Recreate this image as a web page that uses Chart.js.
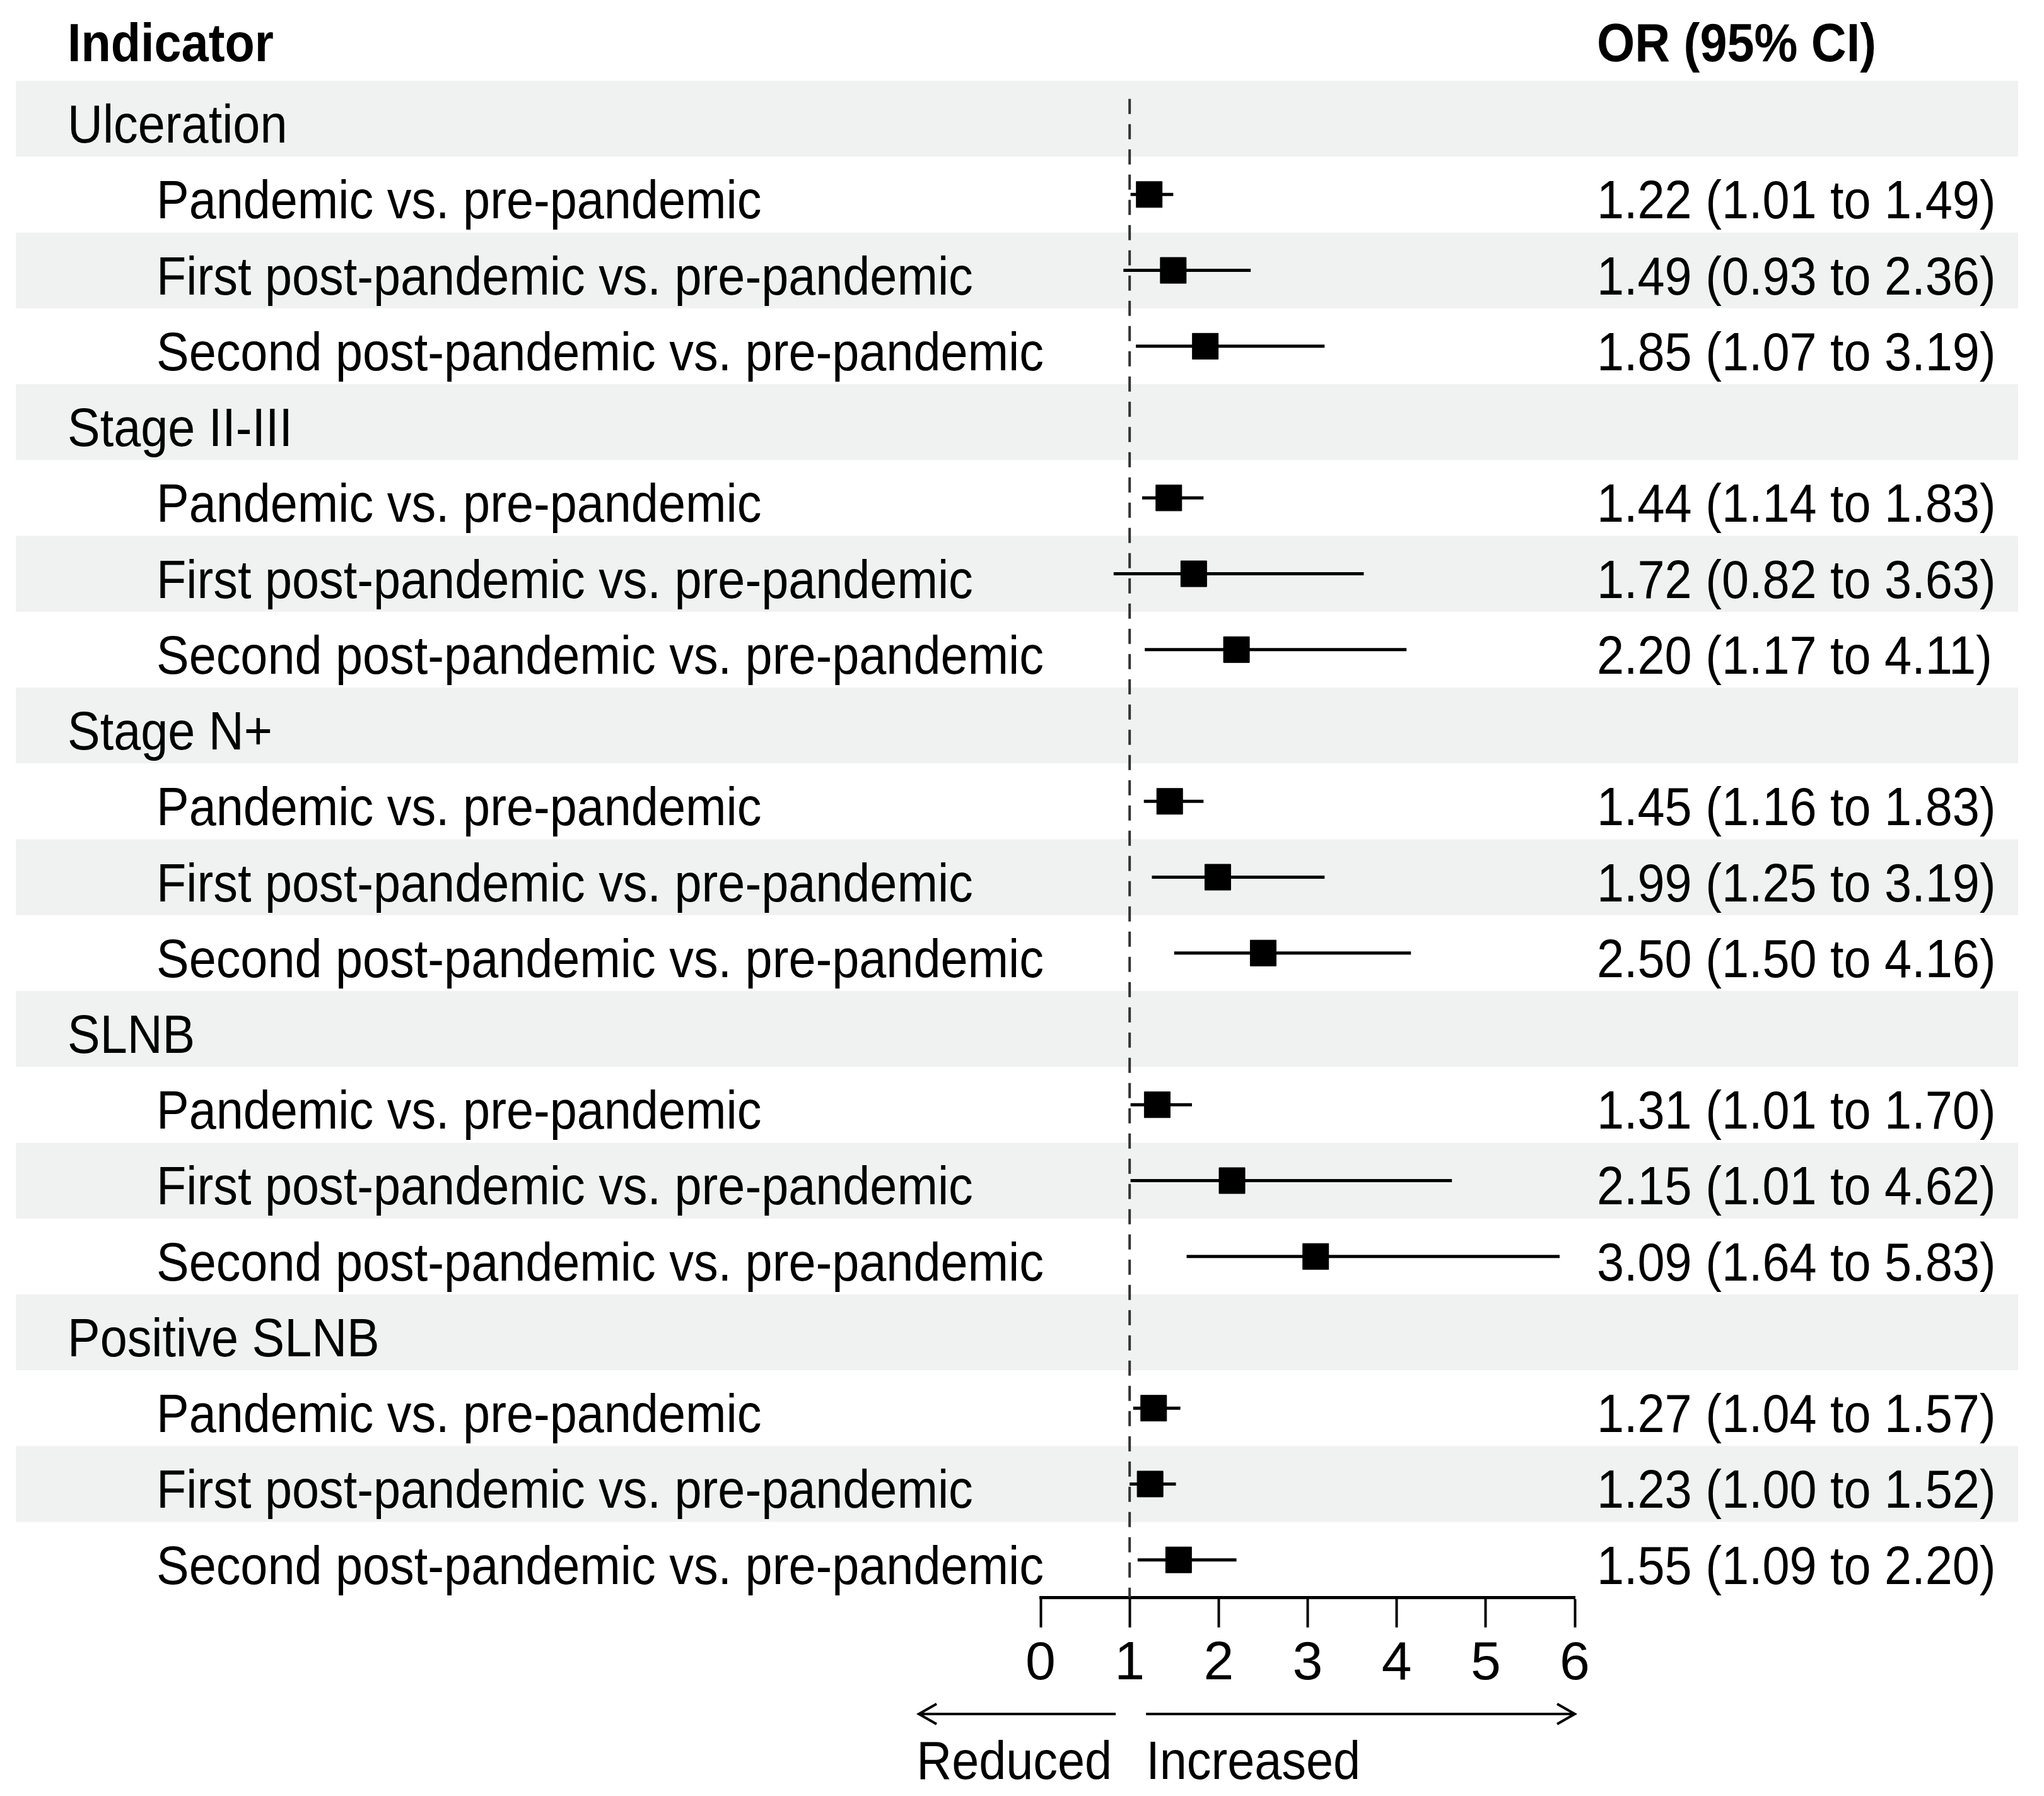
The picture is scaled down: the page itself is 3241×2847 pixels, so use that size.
<!DOCTYPE html>
<html>
<head>
<meta charset="utf-8">
<script src="https://cdn.jsdelivr.net/npm/chart.js@4.4.1/dist/chart.umd.min.js"></script>
<style>
  html, body { margin: 0; padding: 0; background: #ffffff; }
  #wrap { width: 3241px; height: 2847px; }
</style>
</head>
<body>
<div id="wrap"><canvas id="forest" width="3241" height="2847"></canvas></div>
<script>
// groups and the three comparisons inside each group
const groups = ['Ulceration', 'Stage II-III', 'Stage N+', 'SLNB', 'Positive SLNB'];
const comparisons = [
  'Pandemic vs. pre-pandemic',
  'First post-pandemic vs. pre-pandemic',
  'Second post-pandemic vs. pre-pandemic'
];
// odds ratios and 95% CI, in row order
const orValues = [1.22, 1.49, 1.85, 1.44, 1.72, 2.20, 1.45, 1.99, 2.50, 1.31, 2.15, 3.09, 1.27, 1.23, 1.55];
const ciLow    = [1.01, 0.93, 1.07, 1.14, 0.82, 1.17, 1.16, 1.25, 1.50, 1.01, 1.01, 1.64, 1.04, 1.00, 1.09];
const ciHigh   = [1.49, 2.36, 3.19, 1.83, 3.63, 4.11, 1.83, 3.19, 4.16, 1.70, 4.62, 5.83, 1.57, 1.52, 2.20];
const xTicks = [0, 1, 2, 3, 4, 5, 6];

const FONT = "'Liberation Sans', Arial, sans-serif";
const FSIZE = 86;
const SQUEEZE = 0.9;   // narrow look of the original lettering
const BAND = '#eff2f1';

// build the table rows: group header then its comparisons
const rows = [];
let k = 0;
groups.forEach(g => {
  rows.push({ label: g, header: true });
  comparisons.forEach(c => {
    rows.push({ label: c, header: false, est: orValues[k], lo: ciLow[k], hi: ciHigh[k] });
    k++;
  });
});
const nRows = rows.length;

const datasets = [];
// reference line at OR = 1
datasets.push({
  type: 'line',
  data: [{ x: 1, y: -0.26 }, { x: 1, y: nRows - 0.5 }],
  borderColor: '#333333',
  borderWidth: 4,
  borderDash: [24, 16],
  pointRadius: 0
});
// CI lines, one per row
rows.forEach((r, i) => {
  if (r.header) return;
  datasets.push({
    type: 'line',
    data: [{ x: r.lo, y: i }, { x: r.hi, y: i }],
    borderColor: '#000000',
    borderWidth: 5,
    pointRadius: 0
  });
});
// point estimates
datasets.push({
  type: 'scatter',
  data: rows.map((r, i) => r.header ? null : { x: r.est, y: i }).filter(p => p),
  pointStyle: 'rect',
  pointRadius: 29,
  backgroundColor: '#000000',
  borderColor: '#000000',
  borderWidth: 1
});

const fmt = v => v.toFixed(2);

function squeezedText(ctx, text, x, y, align) {
  ctx.save();
  ctx.translate(x, y);
  ctx.scale(SQUEEZE, 1);
  ctx.textAlign = align || 'left';
  ctx.fillText(text, 0, 0);
  ctx.restore();
}

const tablePlugin = {
  id: 'table',
  beforeDraw(chart) {
    const ctx = chart.ctx;
    const y = chart.scales.y;
    ctx.save();
    ctx.fillStyle = '#ffffff';
    ctx.fillRect(0, 0, chart.width, chart.height);
    ctx.fillStyle = BAND;
    rows.forEach((r, i) => {
      if (i % 2 !== 0) return;
      const top = y.getPixelForValue(i - 0.5);
      const bot = y.getPixelForValue(i + 0.5);
      ctx.fillRect(25, top, 3175, bot - top);
    });
    ctx.restore();
  },
  afterDraw(chart) {
    const ctx = chart.ctx;
    const y = chart.scales.y;
    const x = chart.scales.x;
    ctx.save();
    ctx.fillStyle = '#000000';
    ctx.textBaseline = 'alphabetic';
    // headers
    ctx.font = 'bold ' + FSIZE + 'px ' + FONT;
    squeezedText(ctx, 'Indicator', 107, 97);
    squeezedText(ctx, 'OR (95% CI)', 2532, 97);
    ctx.font = FSIZE + 'px ' + FONT;
    rows.forEach((r, i) => {
      const py = y.getPixelForValue(i) + 38;
      squeezedText(ctx, r.label, r.header ? 107 : 248, py);
      if (!r.header) {
        squeezedText(ctx, fmt(r.est) + ' (' + fmt(r.lo) + ' to ' + fmt(r.hi) + ')', 2532, py);
      }
    });
    // direction arrows under the axis
    const ay = 2717;
    const x1 = x.getPixelForValue(1);
    const drawArrow = (from, to) => {
      ctx.beginPath();
      ctx.moveTo(from, ay);
      ctx.lineTo(to, ay);
      const d = to > from ? -1 : 1;
      ctx.moveTo(to + d * 28, ay - 16);
      ctx.lineTo(to, ay);
      ctx.lineTo(to + d * 28, ay + 16);
      ctx.stroke();
    };
    ctx.strokeStyle = '#000000';
    ctx.lineWidth = 4;
    drawArrow(x1 - 22, 1457);
    drawArrow(x1 + 26, x.getPixelForValue(6));
    squeezedText(ctx, 'Reduced', x1 - 28, 2820, 'right');
    squeezedText(ctx, 'Increased', x1 + 26, 2820, 'left');
    ctx.restore();
  }
};

new Chart(document.getElementById('forest'), {
  type: 'scatter',
  data: { datasets },
  options: {
    responsive: false,
    animation: false,
    devicePixelRatio: 1,
    events: [],
    layout: { padding: { left: 1650, right: 744, top: 128, bottom: 150 } },
    plugins: { legend: { display: false }, tooltip: { enabled: false } },
    scales: {
      x: {
        type: 'linear',
        min: 0,
        max: 6,
        afterBuildTicks: s => { s.ticks = xTicks.map(v => ({ value: v })); },
        grid: { drawOnChartArea: false, drawTicks: true, tickLength: 47, tickWidth: 4, tickColor: '#000000' },
        border: { display: true, color: '#000000', width: 5 },
        ticks: { color: '#000000', padding: 7, maxRotation: 0, font: { family: FONT, size: FSIZE } }
      },
      y: {
        type: 'linear',
        display: false,
        reverse: true,
        min: -0.5,
        max: nRows - 0.5
      }
    }
  },
  plugins: [tablePlugin]
});
</script>
</body>
</html>
